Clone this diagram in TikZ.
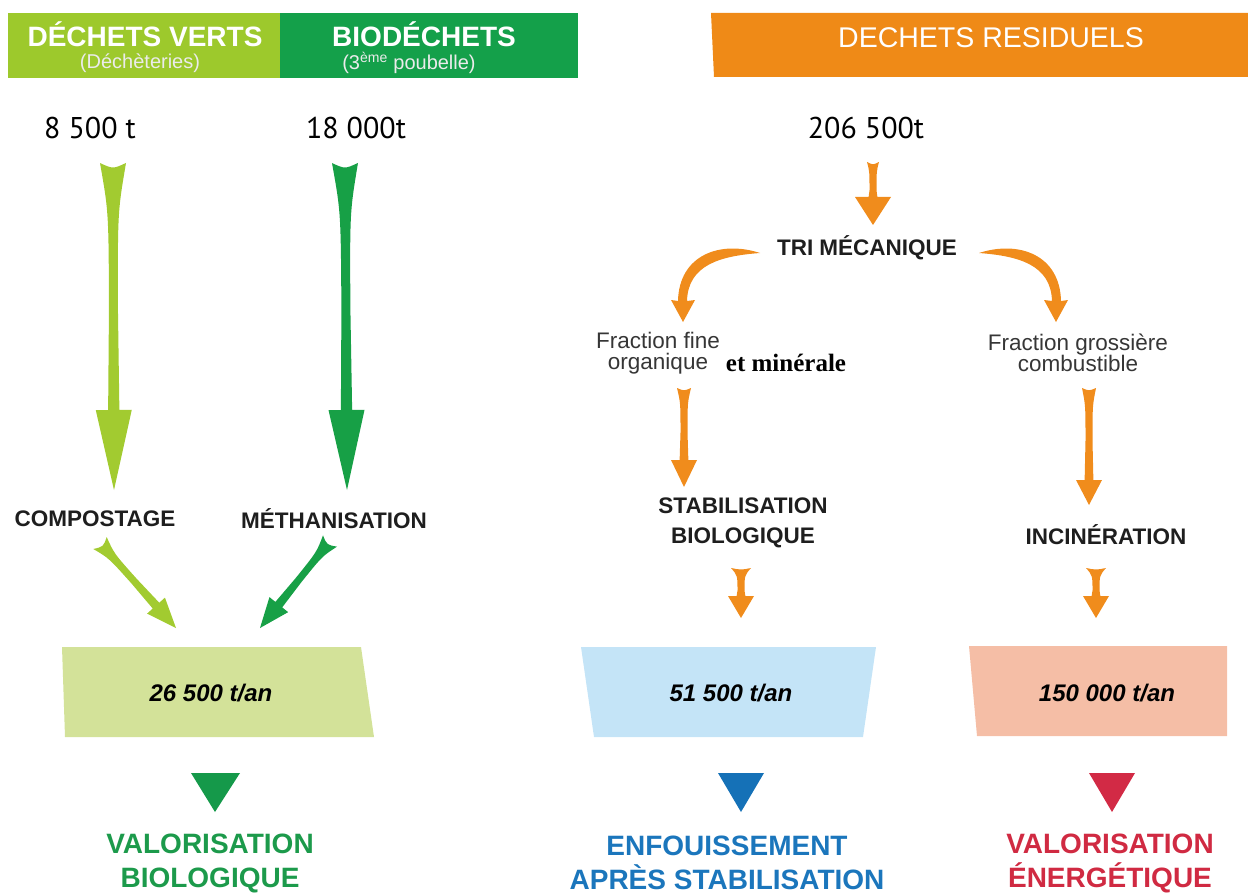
\documentclass[tikz,border=0pt]{standalone}
\usepackage{fontspec}
\setmainfont{Liberation Sans}
\newfontfamily\numfont{PT Sans}
\newfontfamily\timesb{Liberation Serif}
\usetikzlibrary{calc}
\definecolor{hlgreen}{HTML}{9DC92C}
\definecolor{hdgreen}{HTML}{14A04A}
\definecolor{horange}{HTML}{EF8A17}
\definecolor{algreen}{HTML}{A2CB30}
\definecolor{adgreen}{HTML}{17A046}
\definecolor{aorange}{HTML}{F08C1C}
\definecolor{boxgreen}{HTML}{D3E299}
\definecolor{boxblue}{HTML}{C4E4F7}
\definecolor{boxsalmon}{HTML}{F5BEA6}
\definecolor{trigreen}{HTML}{15994A}
\definecolor{triblue}{HTML}{1571B7}
\definecolor{trired}{HTML}{D22A45}
\definecolor{txtgreen}{HTML}{1C9A4B}
\definecolor{txtblue}{HTML}{1B76BC}
\definecolor{txtred}{HTML}{D02A42}
\definecolor{labelgray}{HTML}{1E1E1E}
\definecolor{fracgray}{HTML}{363636}
% tapered arrow: #1 from, #2 to, #3 colour, #4 top half width, #5 neck half width,
% #6 head half width, #7 head length, #8 notch depth
\newcommand\taper[8]{%
  \coordinate (tc) at ($(#1)!0.15!(#2)$);
  \coordinate (tm) at ($(#1)!0.45!(#2)$);
  \coordinate (th) at ($(#2)!#7pt!(#1)$);
  \fill[#3] ($(#1)!#4pt!90:(#2)$)
    .. controls ($(tc)!#5pt!-90:(#1)$) .. ($(tm)!#5pt!-90:(#1)$)
    -- ($(th)!#5pt*1.25!-90:(#1)$) -- ($(th)!#6pt!-90:(#1)$) -- (#2)
    -- ($(th)!#6pt!90:(#1)$) -- ($(th)!#5pt*1.25!90:(#1)$)
    -- ($(tm)!#5pt!90:(#1)$)
    .. controls ($(tc)!#5pt!90:(#1)$) .. ($(#1)!#4pt!-90:(#2)$)
    .. controls ($(#1)!#8pt!(#2)$) .. cycle;
}
% curved swoosh arrow, drawn from (0,0) to the lower left
\newcommand\swoosh[1]{%
  \fill[#1] (0,0) .. controls (-40,-13) and (-81,2) .. (-82,48)
    -- (-89,47) -- (-77,69) -- (-65,47) -- (-73,48)
    .. controls (-72,12) and (-40,3) .. (0,0) -- cycle;
}
\tikzset{
  hdr/.style={text=white, font=\bfseries\fontsize{28}{30}\selectfont, inner sep=0pt},
  hdrsub/.style={text=white!92!black, font=\fontsize{20}{22}\selectfont, inner sep=0pt},
  qty/.style={text=black, font=\numfont\fontsize{30}{32}\selectfont, inner sep=0pt},
  lbl/.style={text=labelgray, font=\bfseries\fontsize{22.5}{29.5}\selectfont, inner sep=0pt, align=center},
  frac/.style={text=fracgray, font=\fontsize{22.5}{21}\selectfont, inner sep=0pt, align=center},
  boxtxt/.style={text=black, font=\bfseries\itshape\fontsize{24}{26}\selectfont, inner sep=0pt},
  outtxt/.style={font=\bfseries\fontsize{28}{34}\selectfont, inner sep=0pt, align=center},
}
\begin{document}
\begin{tikzpicture}[x=1pt,y=-1pt]
\path[use as bounding box] (0,0) rectangle (1248,896);
% header bands
\fill[hlgreen] (8,13) rectangle (280,78);
\fill[hdgreen] (280,13) rectangle (578,78);
\fill[horange] (711,13) -- (1248,13) -- (1248,77) -- (714,77) -- cycle;
\node[hdr] (hv) at (145,34) {DÉCHETS VERTS};
\node[hdrsub] (hvs) at (140,63) {(Déchèteries)};
\node[hdr] (hb) at (424,34) {BIODÉCHETS};
\node[hdrsub] (hbs) at (409,63) {(3\textsuperscript{ème} poubelle)};
\node[hdr, font=\fontsize{28.5}{30}\selectfont] (hr) at (991,38) {DECHETS RESIDUELS};
% quantities
\node[qty] (q1) at (90,128) {8 500 t};
\node[qty] (q2) at (356,128) {18 000t};
\node[qty] (q3) at (866,128) {206 500t};
% labels
\node[lbl] (comp) at (95,519) {COMPOSTAGE};
\node[lbl] (meth) at (334,519) {MÉTHANISATION};
\node[lbl] (tri) at (867,248) {TRI MÉCANIQUE};
\node[frac] (ffine) at (658,353) {Fraction fine\\organique};
\node[text=black, font=\timesb\bfseries\fontsize{25}{27}\selectfont, inner sep=0pt] (etmin) at (786,363) {et minérale};
\node[frac] (fgros) at (1078,353) {Fraction grossière\\combustible};
\node[lbl] (stab) at (743,523) {STABILISATION\\BIOLOGIQUE};
\node[lbl] (inc) at (1106,535) {INCINÉRATION};
% arrow end points
\coordinate (ga1) at (113,163); \coordinate (ga2) at (114,490);
\coordinate (gb1) at (345,163); \coordinate (gb2) at (347,490);
\coordinate (gd1) at (100,543); \coordinate (gd2) at (176,628);
\coordinate (ge1) at (330,541); \coordinate (ge2) at (260,628);
\coordinate (o1) at (873,162);  \coordinate (o2) at (873,225);
\coordinate (o3) at (684,388);  \coordinate (o4) at (684,487);
\coordinate (o5) at (1089,388); \coordinate (o6) at (1089,505);
\coordinate (o7) at (741,568);  \coordinate (o8) at (741,618);
\coordinate (o9) at (1096,568); \coordinate (o10) at (1096,618);
% arrows
\taper{ga1}{ga2}{algreen}{13}{4.5}{18}{80}{6}
\taper{gb1}{gb2}{adgreen}{13}{4.5}{18}{80}{6}
\taper{gd1}{gd2}{algreen}{9}{3.5}{12}{30}{5}
\taper{ge1}{ge2}{adgreen}{9}{3.5}{12}{30}{5}
\taper{o1}{o2}{aorange}{6}{3.5}{18}{28}{3}
\taper{o3}{o4}{aorange}{7}{3.5}{13}{27}{3}
\taper{o5}{o6}{aorange}{7}{3.5}{13}{25}{3}
\taper{o7}{o8}{aorange}{10}{3.5}{13}{22}{2}
\taper{o9}{o10}{aorange}{10}{3.5}{13}{22}{2}
\begin{scope}[shift={(760,253)}]
  \swoosh{aorange}
\end{scope}
\begin{scope}[shift={(979,253)}, xscale=-1]
  \swoosh{aorange}
\end{scope}
% result boxes
\fill[boxgreen] (62,647) -- (361,647) -- (374,737) -- (65,737) -- cycle;
\fill[boxblue] (581,647) -- (876,647) -- (863,737) -- (594,737) -- cycle;
\fill[boxsalmon] (969,646) -- (1227,646) -- (1227,736) -- (977,736) -- cycle;
\node[boxtxt] (t1) at (211,693) {26 500 t/an};
\node[boxtxt] (t2) at (731,693) {51 500 t/an};
\node[boxtxt] (t3) at (1107,693) {150 000 t/an};
% triangles
\fill[trigreen] (191,773) -- (240,773) -- (215,812) -- cycle;
\fill[triblue] (718,773) -- (764,773) -- (741,812) -- cycle;
\fill[trired] (1089,773) -- (1135,773) -- (1112,812) -- cycle;
% outcomes
\node[outtxt, text=txtgreen] (v1) at (210,863) {VALORISATION\\BIOLOGIQUE};
\node[outtxt, text=txtblue] (v2) at (727,863) {ENFOUISSEMENT\\APRÈS STABILISATION};
\node[outtxt, text=txtred] (v3) at (1110,863) {VALORISATION\\ÉNERGÉTIQUE};
\end{tikzpicture}
\end{document}
